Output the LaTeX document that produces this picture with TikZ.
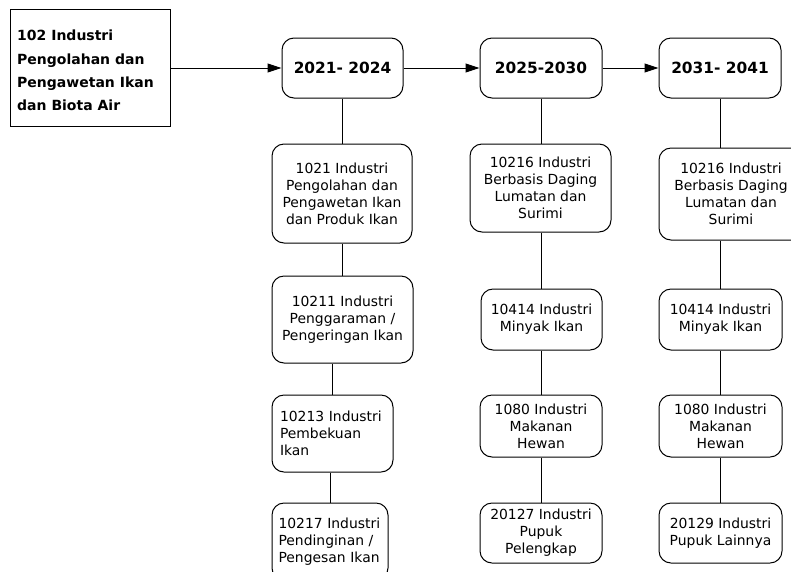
\documentclass[tikz,border=0pt]{standalone}
\usepackage{fontspec}
\setmainfont{DejaVu Sans}
\usetikzlibrary{arrows.meta}
\begin{document}
\begin{tikzpicture}[x=1pt,y=-1pt,
  frame/.style={draw, line width=1pt, rounded corners=12pt, inner sep=0pt, align=center, font=\fontsize{13.9}{16.9}\selectfont},
  yearbox/.style={frame, minimum width=121pt, minimum height=60pt, font=\bfseries\fontsize{15.4}{18}\selectfont},
  conn/.style={line width=1pt},
  arr/.style={conn, -{Triangle[length=14pt,width=9pt]}}]
\useasboundingbox (0,0) rectangle (791,571);
\clip (0,0) rectangle (791,571);
\fill[white] (0,0) rectangle (791,571);

% top-left box
\node[draw, line width=1pt, minimum width=160pt, minimum height=117pt, inner sep=0pt] (b102) at (90,67.5) {};
\node[anchor=north west, inner sep=0pt, align=left, font=\bfseries\fontsize{14}{23.3}\selectfont] (b102t) at (17,30) {102 Industri\\Pengolahan dan\\Pengawetan Ikan\\dan Biota Air};

% year boxes
\node[yearbox] (y1) at (342.5,68) {2021- 2024};
\node[yearbox, minimum width=122pt] (y2) at (541,68) {2025-2030};
\node[yearbox, minimum width=122pt] (y3) at (720,68) {2031- 2041};

% column 1
\node[frame, minimum width=140pt, minimum height=99pt] (c1a) at (342,193.5) {1021 Industri\\Pengolahan dan\\Pengawetan Ikan\\dan Produk Ikan};
\node[frame, minimum width=141pt, minimum height=87pt] (c1b) at (342.5,319.5) {10211 Industri\\Penggaraman /\\Pengeringan Ikan};
\node[frame, minimum width=121pt, minimum height=77pt, align=left, text width=105pt] (c1c) at (332.5,433.5) {10213 Industri\\Pembekuan\\Ikan};
\node[frame, minimum width=116pt, minimum height=77pt, align=left, text width=103pt] (c1d) at (330,541.5) {10217 Industri\\Pendinginan /\\Pengesan Ikan};

% column 2
\node[frame, minimum width=141pt, minimum height=88pt] (c2a) at (540.5,188) {10216 Industri\\Berbasis Daging\\Lumatan dan\\Surimi};
\node[frame, minimum width=121pt, minimum height=61pt] (c2b) at (541.5,319.5) {10414 Industri\\Minyak Ikan};
\node[frame, minimum width=122pt, minimum height=62pt] (c2c) at (541,426) {1080 Industri\\Makanan\\Hewan};
\node[frame, minimum width=122pt, minimum height=60pt] (c2d) at (541,533) {20127 Industri\\Pupuk\\Pelengkap};

% column 3
\node[frame, minimum width=144pt, minimum height=92pt] (c3a) at (731,194) {10216 Industri\\Berbasis Daging\\Lumatan dan\\Surimi};
\node[frame, minimum width=123pt, minimum height=61pt] (c3b) at (720.5,319.5) {10414 Industri\\Minyak Ikan};
\node[frame, minimum width=123pt, minimum height=62pt] (c3c) at (720.5,426) {1080 Industri\\Makanan\\Hewan};
\node[frame, minimum width=123pt, minimum height=60pt] (c3d) at (720.5,533) {20129 Industri\\Pupuk Lainnya};

% arrows
\draw[arr] (b102.east |- y1.west) -- (y1.west);
\draw[arr] (y1.east) -- (y2.west);
\draw[arr] (y2.east) -- (y3.west);

% vertical connectors
\draw[conn] (y1.south) -- (y1.south |- c1a.north);
\draw[conn] (c1b.north |- c1a.south) -- (c1b.north);
\draw[conn] (c1c.north |- c1b.south) -- (c1c.north);
\draw[conn] (c1d.north |- c1c.south) -- (c1d.north);

\draw[conn] (y2.south) -- (y2.south |- c2a.north);
\draw[conn] (c2b.north |- c2a.south) -- (c2b.north);
\draw[conn] (c2c.north |- c2b.south) -- (c2c.north);
\draw[conn] (c2d.north |- c2c.south) -- (c2d.north);

\draw[conn] (y3.south) -- (y3.south |- c3a.north);
\draw[conn] (c3b.north |- c3a.south) -- (c3b.north);
\draw[conn] (c3c.north |- c3b.south) -- (c3c.north);
\draw[conn] (c3d.north |- c3c.south) -- (c3d.north);
\end{tikzpicture}
\end{document}
